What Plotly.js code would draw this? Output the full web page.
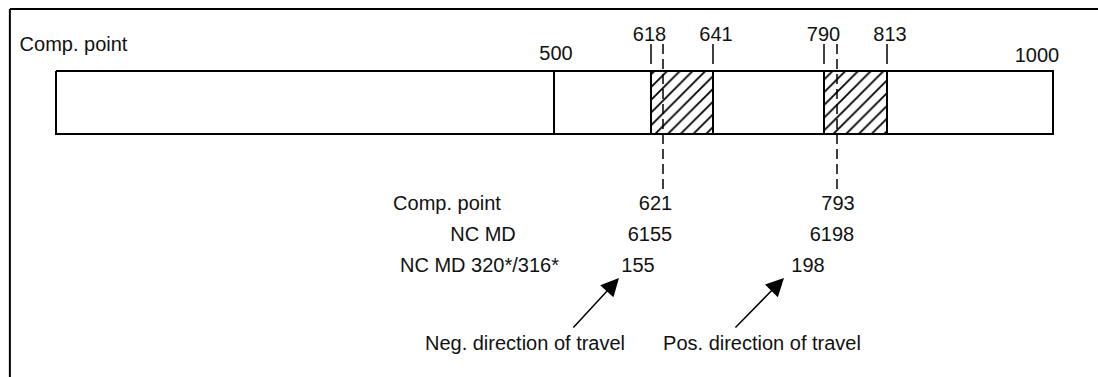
<!DOCTYPE html>
<html>
<head>
<meta charset="utf-8">
<script src="https://cdn.plot.ly/plotly-3.0.1.min.js"></script>
<style>html,body{margin:0;padding:0;background:#fff;}#chart{width:1098px;height:377px;}</style>
</head>
<body>
<div id="chart"></div>
<script>
// ---- data ----
const scaleEnds = [0, 1000];
const midMark = [500];
const scaleLabels = ["500", "1000"];
const zoneNeg = [618, 641];
const zonePos = [790, 813];
const compPoints = [621, 793];
const rowLabels = ["Comp. point", "NC MD", "NC MD 320*/316*"];
const negValues = ["621", "6155", "155"];
const posValues = ["793", "6198", "198"];
const directionLabels = ["Neg. direction of travel", "Pos. direction of travel"];
const titleLabel = "Comp. point";

// ---- schematic (not-to-scale) layout of the diagram ----
const anchors = [[0,56],[500,554],[618,651],[621,663],[641,713],[790,824],[793,837],[813,887],[1000,1053]];
function pos(v){
  for (let i=0;i<anchors.length-1;i++){
    const [a0,p0]=anchors[i],[a1,p1]=anchors[i+1];
    if (v>=a0 && v<=a1) return p0+(v-a0)/(a1-a0)*(p1-p0);
  }
  return v;
}
const FONT = {family:"Liberation Sans, Arial, sans-serif", size:20, color:"#111"};
const barTop = 71, barBot = 134, tickTop = 44, tickBot = 64, dashBot = 189;
const rowY = [205, 236, 267];

const traces = [];
// bar outline
const x0 = pos(scaleEnds[0]), x1 = pos(scaleEnds[1]);
traces.push({x:[x0,x1,x1,x0,x0], y:[barTop,barTop,barBot,barBot,barTop], mode:"lines",
  line:{color:"#000", width:2}, hoverinfo:"skip"});
// hatched zones
[zoneNeg, zonePos].forEach(z=>{
  const a=pos(z[0]), b=pos(z[1]);
  traces.push({x:[a,b,b,a,a], y:[barTop,barTop,barBot,barBot,barTop], mode:"lines", fill:"toself",
    fillcolor:"rgba(0,0,0,0)",
    fillpattern:{shape:"/", size:9, solidity:0.2, fgcolor:"#000", bgcolor:"#fff"},
    line:{color:"#000", width:2}, hoverinfo:"skip"});
});
// 500 line
midMark.forEach(v=>{
  traces.push({x:[pos(v),pos(v)], y:[barTop,barBot], mode:"lines", line:{color:"#000",width:2}, hoverinfo:"skip"});
});
// ticks above zones
const tx=[], ty=[];
zoneNeg.concat(zonePos).forEach(v=>{ tx.push(pos(v),pos(v),null); ty.push(tickTop,tickBot,null); });
traces.push({x:tx, y:ty, mode:"lines", line:{color:"#000",width:1.5}, hoverinfo:"skip"});
// dashed comp-point lines
const dx=[], dy=[];
compPoints.forEach(v=>{ dx.push(pos(v),pos(v),null); dy.push(tickTop,dashBot,null); });
traces.push({x:dx, y:dy, mode:"lines", line:{color:"#000",width:1.5,dash:"10px,5px"}, hoverinfo:"skip"});

// tick labels
const zoneVals = zoneNeg.concat(zonePos);
const zoneLabelOff = [-1.5, 3, -0.5, 3];
traces.push({x:zoneVals.map((v,i)=>pos(v)+zoneLabelOff[i]), y:zoneVals.map(()=>36),
  text:zoneVals.map(String), mode:"text", textposition:"middle center", textfont:FONT, hoverinfo:"skip"});
traces.push({x:[pos(midMark[0])+2, pos(scaleEnds[1])-16], y:[55,57], text:scaleLabels, mode:"text",
  textposition:"middle center", textfont:FONT, hoverinfo:"skip"});
// title label
traces.push({x:[73.5], y:[46], text:[titleLabel], mode:"text", textposition:"middle center", textfont:FONT, hoverinfo:"skip"});
// row labels
const rowX = [447, 483, 479.5];
traces.push({x:rowX, y:rowY, text:rowLabels, mode:"text", textposition:"middle center", textfont:FONT, hoverinfo:"skip"});
const negOff = [-7.5, -13, -25], posOff = [1, -5, -29];
traces.push({x:negOff.map(o=>pos(compPoints[0])+o), y:rowY, text:negValues, mode:"text", textposition:"middle center", textfont:FONT, hoverinfo:"skip"});
traces.push({x:posOff.map(o=>pos(compPoints[1])+o), y:rowY, text:posValues, mode:"text", textposition:"middle center", textfont:FONT, hoverinfo:"skip"});
// direction labels
traces.push({x:[pos(compPoints[0])-138, pos(compPoints[1])-75], y:[345,345], text:directionLabels, mode:"text",
  textposition:"middle center", textfont:FONT, hoverinfo:"skip"});

// arrows
const annotations = [
  {x:pos(compPoints[0])-44, y:278, ax:pos(compPoints[0])-91, ay:329},
  {x:pos(compPoints[1])-53, y:278, ax:pos(compPoints[1])-103, ay:329}
].map(a=>Object.assign(a,{xref:"x",yref:"y",axref:"x",ayref:"y",text:"",showarrow:true,
  arrowhead:2, arrowsize:2.4, arrowwidth:1.5, arrowcolor:"#000"}));

const layout = {
  width:1098, height:377, margin:{l:0,r:0,t:0,b:0},
  paper_bgcolor:"#fff", plot_bgcolor:"#fff", showlegend:false,
  xaxis:{range:[0,1098], visible:false, fixedrange:true},
  yaxis:{range:[377,0], visible:false, fixedrange:true},
  annotations:annotations,
  shapes:[
    {type:"line", xref:"paper", yref:"paper", x0:0.009, x1:1, y0:1-9/377, y1:1-9/377, line:{color:"#000",width:2}},
    {type:"line", xref:"paper", yref:"paper", x0:0.009, x1:0.009, y0:0, y1:1-9/377, line:{color:"#000",width:2}}
  ]
};
Plotly.newPlot("chart", traces, layout, {staticPlot:true, displayModeBar:false});
</script>
</body>
</html>
